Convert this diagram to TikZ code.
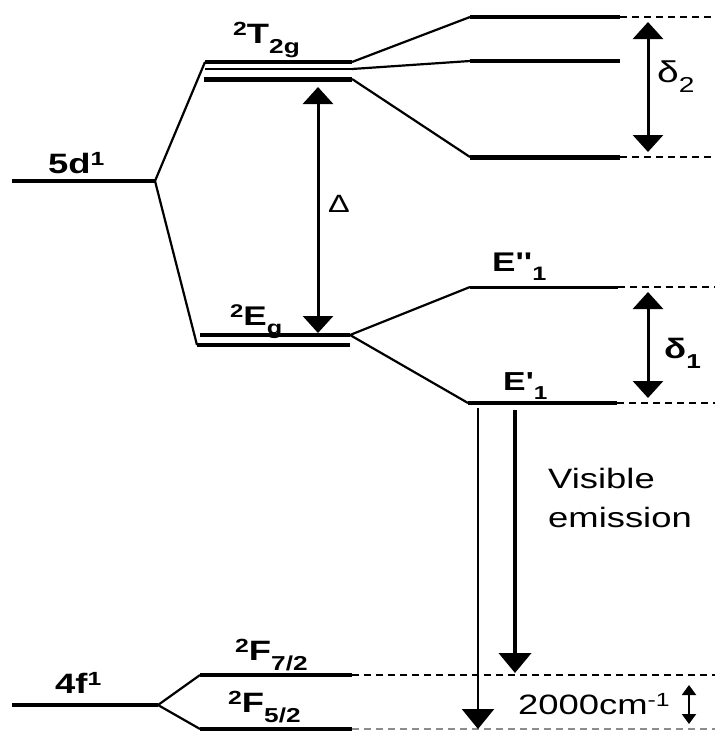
\documentclass[tikz,border=0pt]{standalone}
\usepackage{fontspec}
\usetikzlibrary{arrows.meta}
\newfontfamily\lab{Liberation Sans}[FakeStretch=1.3,Ligatures=TeXOff]
\newcommand{\fsz}[1]{\fontsize{#1}{#1}\selectfont}
\newcommand{\hi}[1]{\raisebox{.27em}{\scalebox{.68}{#1}}}
\newcommand{\lo}[1]{\raisebox{-.36em}{\scalebox{.72}{#1}}}
\tikzset{
  level/.style={line width=4pt},
  split/.style={line width=2.2pt},
  guide/.style={line width=1.5pt,dash pattern=on 7pt off 5pt},
  gaparrow/.style={line width=3pt,{Triangle[width=30pt,length=17pt]}-{Triangle[width=30pt,length=17pt]}},
  emit/.style={-{Triangle[width=32pt,length=20pt]}},
  lbl/.style={font=\lab\bfseries\fsz{28},inner sep=0pt,anchor=base west},
  txt/.style={font=\lab\fsz{28},inner sep=0pt,anchor=base west},
}

\begin{document}
\begin{tikzpicture}[x=1pt,y=-1pt]
  \useasboundingbox (0,0) rectangle (715,731);
  % free ion levels
  \coordinate (d5L) at (12,181);   \coordinate (d5R) at (155,181);
  \coordinate (f4L) at (12,705);   \coordinate (f4R) at (158,705);
  % crystal field levels
  \coordinate (t1L) at (205,62);   \coordinate (t1R) at (352,62);
  \coordinate (t2L) at (205,69);   \coordinate (t2R) at (352,69);
  \coordinate (t3L) at (204,79);   \coordinate (t3R) at (352,79);
  \coordinate (e1L) at (200,335);  \coordinate (e1R) at (350,335);
  \coordinate (e2L) at (197,345);  \coordinate (e2R) at (350,345);
  \coordinate (f7L) at (200,675);  \coordinate (f7R) at (352,675);
  \coordinate (f5L) at (200,729);  \coordinate (f5R) at (352,729);
  % spin-orbit levels
  \coordinate (s1L) at (470,17);   \coordinate (s1R) at (620,17);
  \coordinate (s2L) at (470,61);   \coordinate (s2R) at (620,61);
  \coordinate (s3L) at (470,157);  \coordinate (s3R) at (620,157);
  \coordinate (ppL) at (470,287);  \coordinate (ppR) at (618,287);
  \coordinate (pL)  at (468,403);  \coordinate (pR)  at (617,403);
  % right edge
  \coordinate (s1E) at (715,17);   \coordinate (s3E) at (715,157);
  \coordinate (ppE) at (715,287);  \coordinate (pE)  at (715,403);
  \coordinate (f7E) at (715,675);  \coordinate (f5E) at (715,729);

  % levels
  \draw[level] (d5L) -- (d5R);
  \draw[level] (f4L) -- (f4R);
  \draw[level] (t1L) -- (t1R);
  \draw[split] (t2L) -- (t2R);
  \draw[line width=5pt] (t3L) -- (t3R);
  \draw[level] (e1L) -- (e1R);
  \draw[level] (e2L) -- (e2R);
  \draw[level] (f7L) -- (f7R);
  \draw[level] (f5L) -- (f5R);
  \draw[line width=4.5pt] (s1L) -- (s1R);
  \draw[level] (s2L) -- (s2R);
  \draw[line width=5pt] (s3L) -- (s3R);
  \draw[line width=3pt] (ppL) -- (ppR);
  \draw[line width=4.5pt] (pL) -- (pR);

  % splitting
  \draw[split] (t1L) -- (d5R) -- (e2L);
  \draw[split] (f7L) -- (f4R) -- (f5L);
  \draw[split] (t1R) -- (s1L);
  \draw[split] (t2R) -- (s2L);
  \draw[split] (t3R) -- (s3L);
  \draw[split] (ppL) -- (e1R) -- (pL);

  % dashed guides
  \draw[guide] (s1R) -- (s1E);
  \draw[guide] (s3R) -- (s3E);
  \draw[guide] (ppR) -- (ppE);
  \draw[guide] (pR) -- (pE);
  \draw[guide] (f7R) -- (f7E);
  \draw[guide,black!45] (f5R) -- (f5E);

  % gaps
  \coordinate (DelT) at (318,87);  \coordinate (DelB) at (318,333);
  \coordinate (dtwoT) at (648,22); \coordinate (dtwoB) at (648,152);
  \coordinate (doneT) at (648,292);\coordinate (doneB) at (648,398);
  \draw[gaparrow] (DelT) -- (DelB);
  \draw[gaparrow] (dtwoT) -- (dtwoB);
  \draw[gaparrow] (doneT) -- (doneB);

  % emission
  \coordinate (emA) at (478,408);  \coordinate (emAend) at (478,729);
  \coordinate (emB) at (515,410);  \coordinate (emBend) at (515,673);
  \draw[emit,line width=2.4pt] (emA) -- (emAend);
  \draw[emit,line width=4pt] (emB) -- (emBend);
  \coordinate (soT) at (689,685);  \coordinate (soB) at (689,724);
  \draw[line width=2pt,{Triangle[width=14pt,length=10pt]}-{Triangle[width=14pt,length=10pt]}] (soT) -- (soB);

  % labels
  \node[lbl] (l5d) at (48,173) {5d\hi{1}};
  \node[lbl] (l4f) at (55,693) {4f\hi{1}};
  \node[lbl] (lT) at (233,43) {\hi{2}T\lo{2g}};
  \node[lbl,font=\lab\bfseries\fsz{27}] (lE) at (230,325) {\hi{2}E\lo{g}};
  \node[lbl] (lF7) at (235,660) {\hi{2}F\lo{7/2}};
  \node[lbl] (lF5) at (228,712) {\hi{2}F\lo{5/2}};
  \node[lbl,font=\lab\bfseries\fsz{27}] (lEpp) at (492,271) {E''\lo{1}};
  \node[lbl,font=\lab\bfseries\fsz{26}] (lEp) at (503,390) {E'\lo{1}};
  \node[txt,font=\lab\fsz{25}] (lDel) at (328,212) {Δ};
  \node[txt,font=\lab\fsz{30}] (ldtwo) at (657,82) {δ\lo{2}};
  \node[txt,font=\lab\bfseries\fsz{28}] (ldone) at (664,358) {δ\lo{1}};
  \node[txt,align=left,anchor=north west,font=\lab\fontsize{28}{39}\selectfont] (lvis) at (548,468) {Visible\\emission};
  \node[txt,font=\lab\fsz{28}] (lcm) at (518,714) {2000cm\hi{-1}};
\end{tikzpicture}
\end{document}
